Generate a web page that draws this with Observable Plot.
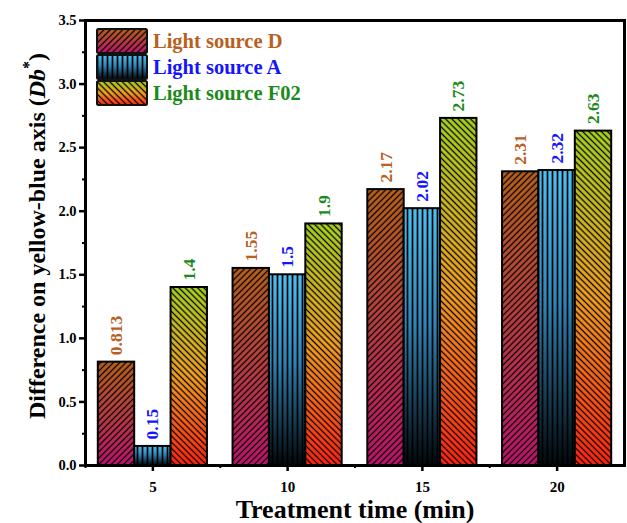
<!DOCTYPE html>
<html><head><meta charset="utf-8">
<script src="https://cdn.jsdelivr.net/npm/d3@7"></script>
<script src="https://cdn.jsdelivr.net/npm/@observablehq/plot@0.6"></script>
<style>body{margin:0;background:#fff} svg{display:block}</style>
</head><body><div id="chart"></div>
<script>
// ---- data ----
const times = [5, 10, 15, 20];
const sources = ["Light source D", "Light source A", "Light source F02"];
const valuesD = [0.813, 1.55, 2.17, 2.31];
const valuesA = [0.15, 1.5, 2.02, 2.32];
const valuesF02 = [1.4, 1.9, 2.73, 2.63];
const yTicks = [0, 0.5, 1.0, 1.5, 2.0, 2.5, 3.0, 3.5];
const yMinor = [0.25, 0.75, 1.25, 1.75, 2.25, 2.75, 3.25];
const xTicks = [5, 10, 15, 20];
const xMinor = [2.5, 7.5, 12.5, 17.5];
const xTitle = "Treatment time (min)";
const yTitleMain = "Difference on yellow-blue axis (";
const yTitleItalic = "Db";

// ---- styles ----
const FONT = "'Liberation Serif', 'Times New Roman', serif";
const styles = [
  {key: "D", text: "#b8601f", rot: 45, gap: 4.4, lw: 1.3,
   stops: [[0, "#b8621c"], [0.5, "#b93f42"], [1, "#c0146e"]]},
  {key: "A", text: "#1414ff", rot: 0, gap: 5, lw: 1.7,
   stops: [[0, "#4cc0f2"], [0.45, "#2e86b8"], [1, "#03080c"]]},
  {key: "F", text: "#1b8a1b", rot: -45, gap: 4.4, lw: 1.3,
   stops: [[0, "#a8d21e"], [0.5, "#f2a020"], [1, "#ff2412"]]}
];
const seriesValues = [valuesD, valuesA, valuesF02];
const rows = [];
sources.forEach((s, i) => times.forEach((t, j) => rows.push({source: s, i, time: t, value: seriesValues[i][j]})));
const bw = 1.35; // bar width in x units

const marks = [];
sources.forEach((s, i) => {
  const data = rows.filter(d => d.i === i);
  const x1 = d => d.time + (d.i - 1.5) * bw;
  const x2 = d => d.time + (d.i - 0.5) * bw;
  marks.push(Plot.rectY(data, {x1, x2, y1: 0, y2: "value", fill: `url(#grad${styles[i].key})`}));
  marks.push(Plot.rectY(data, {x1, x2, y1: 0, y2: "value", fill: `url(#hatch${styles[i].key})`, stroke: "black", strokeWidth: 2}));
  marks.push(Plot.text(data, {x: d => d.time + (d.i - 1) * bw, y: "value", text: d => String(d.value),
    rotate: -90, textAnchor: "start", dy: -7, fill: styles[i].text, fontSize: 17.5, fontWeight: "bold", fontFamily: FONT}));
});

const plot = Plot.plot({
  width: 627, height: 523,
  marginTop: 20, marginRight: 3, marginBottom: 58, marginLeft: 85,
  x: {domain: [2.5, 22.5]},
  y: {domain: [0, 3.5]},
  style: {fontFamily: FONT, background: "white", overflow: "visible"},
  marks: [
    ...marks,
    Plot.frame({stroke: "black", strokeWidth: 3}),
    Plot.axisY(yTicks, {tickSize: 6, tickPadding: 3, strokeWidth: 2.5, tickFormat: d3.format(".1f"),
      fontSize: 14.5, fontWeight: "bold", fill: "black", label: null}),
    Plot.axisY(yMinor, {tickSize: 3, strokeWidth: 2, text: null, label: null}),
    Plot.axisX(xTicks, {tickSize: 6, tickPadding: 10, strokeWidth: 2.5,
      fontSize: 15, fontWeight: "bold", fill: "black", label: null}),
    Plot.axisX(xMinor, {tickSize: 3, strokeWidth: 2, text: null, label: null}),
    Plot.text([xTitle], {frameAnchor: "bottom", lineAnchor: "top", dy: 34, fontSize: 26, fontWeight: "bold", fontFamily: FONT, fill: "black"})
  ]
});

// defs: gradients and hatch patterns
const svg = d3.select(plot);
const defs = svg.insert("defs", ":first-child");
styles.forEach(st => {
  const g = defs.append("linearGradient").attr("id", "grad" + st.key)
    .attr("x1", 0).attr("y1", 0).attr("x2", 0).attr("y2", 1);
  st.stops.forEach(([o, c]) => g.append("stop").attr("offset", o).attr("stop-color", c));
  const p = defs.append("pattern").attr("id", "hatch" + st.key)
    .attr("patternUnits", "userSpaceOnUse").attr("width", st.gap).attr("height", st.gap)
    .attr("patternTransform", `rotate(${st.rot})`);
  p.append("line").attr("x1", st.gap / 2).attr("y1", -1).attr("x2", st.gap / 2).attr("y2", st.gap + 1)
    .attr("stroke", "black").attr("stroke-width", st.lw);
});

// legend (inside the plot, top-left)
const leg = svg.append("g");
sources.forEach((s, i) => {
  const y0 = 29 + i * 26;
  leg.append("rect").attr("x", 97).attr("y", y0).attr("width", 50).attr("height", 24)
    .attr("fill", `url(#grad${styles[i].key})`);
  leg.append("rect").attr("x", 97).attr("y", y0).attr("width", 50).attr("height", 24)
    .attr("fill", `url(#hatch${styles[i].key})`).attr("stroke", "#111").attr("stroke-width", 2).attr("rx", 1.5);
  leg.append("text").attr("x", 153).attr("y", y0 + 12).attr("dy", "0.35em")
    .attr("font-weight", "700")
    .style("fill", styles[i].text).style("font-family", FONT).style("font-weight", "700")
    .style("font-size", "20.5px").style("text-anchor", "start").text(s);
});

// y title with italic + superscript
const yt = svg.append("text").attr("transform", "translate(45,236) rotate(-90)")
  .style("text-anchor", "middle").style("font-family", FONT).style("font-weight", "700")
  .style("font-size", "24px").style("fill", "black");
yt.append("tspan").text(yTitleMain);
yt.append("tspan").style("font-style", "italic").text(yTitleItalic);
yt.append("tspan").attr("dy", -11).style("font-size", "16px").text("*");
yt.append("tspan").attr("dy", 11).text(")");

document.getElementById("chart").appendChild(plot);
</script>
</body></html>
